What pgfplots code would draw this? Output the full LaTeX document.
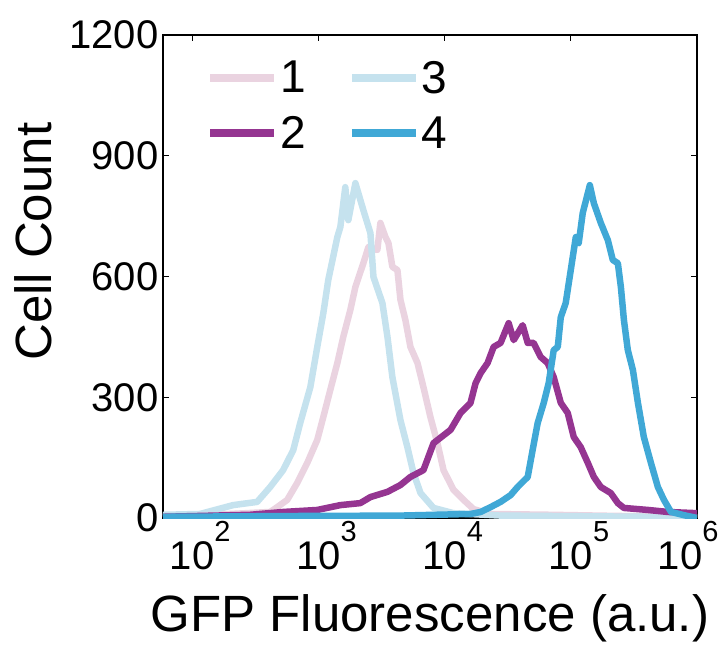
\documentclass[border=0pt]{standalone}
\usepackage{fontspec}
\setmainfont{Liberation Sans}
\usepackage{pgfplots}
\pgfplotsset{compat=1.18}
\definecolor{cA}{RGB}{234,211,224}
\definecolor{cB}{RGB}{149,53,145}
\definecolor{cC}{RGB}{197,226,238}
\definecolor{cD}{RGB}{64,168,214}
\newcommand{\tl}[1]{10\rlap{\raisebox{28bp}{\fontsize{29bp}{29bp}\selectfont #1}}}
\begin{document}
\begin{tikzpicture}
\useasboundingbox (-163bp,-128bp) rectangle (559bp,518bp);
\begin{axis}[
  width=534bp, height=483bp, scale only axis,
  xmin=1.77, xmax=6, ymin=0, ymax=1200,
  axis line style={line width=1.2bp},
  xtick={2,3,4,5,6},
  xticklabels={\tl{2},\tl{3},\tl{4},\tl{5},\kern-34bp\tl{6}},
  ytick={0,300,600,900,1200},
  yticklabels={0,300,600,900,1200},
  tick style={black, line width=1bp},
  major tick length=6bp,
  tick align=inside,
  xtick pos=both, ytick pos=both,
  ticklabel style={font=\fontsize{40bp}{44bp}\selectfont},
  yticklabel style={xshift=-1bp},
  xlabel={GFP Fluorescence (a.u.)},
  ylabel={Cell Count},
  label style={font=\fontsize{51bp}{56bp}\selectfont},
  xlabel style={at={(axis description cs:0.5,-0.236)}, anchor=base},
  ylabel style={at={(axis description cs:-0.243,0.572)}, anchor=center},
  legend columns=2,
  legend style={draw=none, fill=none, at={(axis description cs:0.075,0.955)}, anchor=north west,
    font=\fontsize{46bp}{50bp}\selectfont, row sep=18bp,
    /tikz/every even column/.append style={column sep=40bp}},
  legend image code/.code={\draw[#1, line width=8bp] (0bp,0bp) -- (64bp,0bp);},
  every axis plot/.append style={line width=6.5bp, line join=round},
]
% series 1
\addplot[cA] coordinates {
(1.770,5) (2.302,10) (2.619,15) (2.675,27) (2.754,45) (2.833,87) (2.913,137) (2.992,194)
(3.040,251) (3.095,318) (3.151,385) (3.198,450) (3.254,517) (3.294,574) (3.357,633) (3.397,673)
(3.468,666) (3.492,733) (3.532,698) (3.556,683) (3.587,624) (3.627,616) (3.651,542) (3.690,492)
(3.730,425) (3.786,385) (3.833,325) (3.889,250) (3.944,186) (3.992,119) (4.071,70) (4.151,45)
(4.230,22) (4.365,10) (4.841,8) (5.397,5) (6.0,3)};
\addlegendentry{1}
% series 3
\addplot[cC] coordinates {
(1.770,8) (2.063,10) (2.325,32) (2.516,40) (2.619,77) (2.722,119) (2.802,169) (2.857,236)
(2.937,325) (2.992,425) (3.040,509) (3.079,591) (3.151,698) (3.175,723) (3.214,822) (3.238,740)
(3.294,832) (3.357,765) (3.413,708) (3.437,599) (3.508,534) (3.548,450) (3.587,350) (3.651,243)
(3.706,176) (3.754,112) (3.810,62) (3.913,25) (4.071,12) (4.444,6) (5.238,4) (6.0,2)};
\addlegendentry{3}
% series 2
\addplot[cB] coordinates {
(1.770,3) (2.460,8) (2.722,15) (2.992,20) (3.175,32) (3.333,37) (3.413,52) (3.548,65)
(3.651,82) (3.730,102) (3.833,119) (3.913,186) (4.048,219) (4.127,261) (4.206,286) (4.246,335)
(4.286,360) (4.341,385) (4.389,425) (4.444,435) (4.508,484) (4.548,442) (4.619,479) (4.659,435)
(4.706,435) (4.762,400) (4.817,385) (4.865,350) (4.921,286) (4.976,261) (5.024,201) (5.079,176)
(5.135,137) (5.183,102) (5.238,77) (5.317,62) (5.373,37) (5.421,25) (5.611,20) (5.770,15) (6.0,12)};
\addlegendentry{2}
% series 4
\addplot[cD] coordinates {
(1.770,3) (2.857,5) (3.651,6) (4.206,10) (4.286,15) (4.365,27) (4.444,40) (4.524,57)
(4.579,77) (4.659,102) (4.698,169) (4.738,236) (4.786,286) (4.825,335) (4.865,417) (4.897,425)
(4.921,499) (4.960,534) (5.000,616) (5.040,698) (5.063,683) (5.095,758) (5.135,807) (5.151,827)
(5.183,782) (5.238,733) (5.294,690) (5.333,641) (5.373,633) (5.397,574) (5.421,492) (5.452,417)
(5.492,368) (5.532,286) (5.579,201) (5.635,137) (5.690,77) (5.738,45) (5.794,15) (5.897,7) (6.0,0)};
\addlegendentry{4}
\end{axis}
\end{tikzpicture}
\end{document}
